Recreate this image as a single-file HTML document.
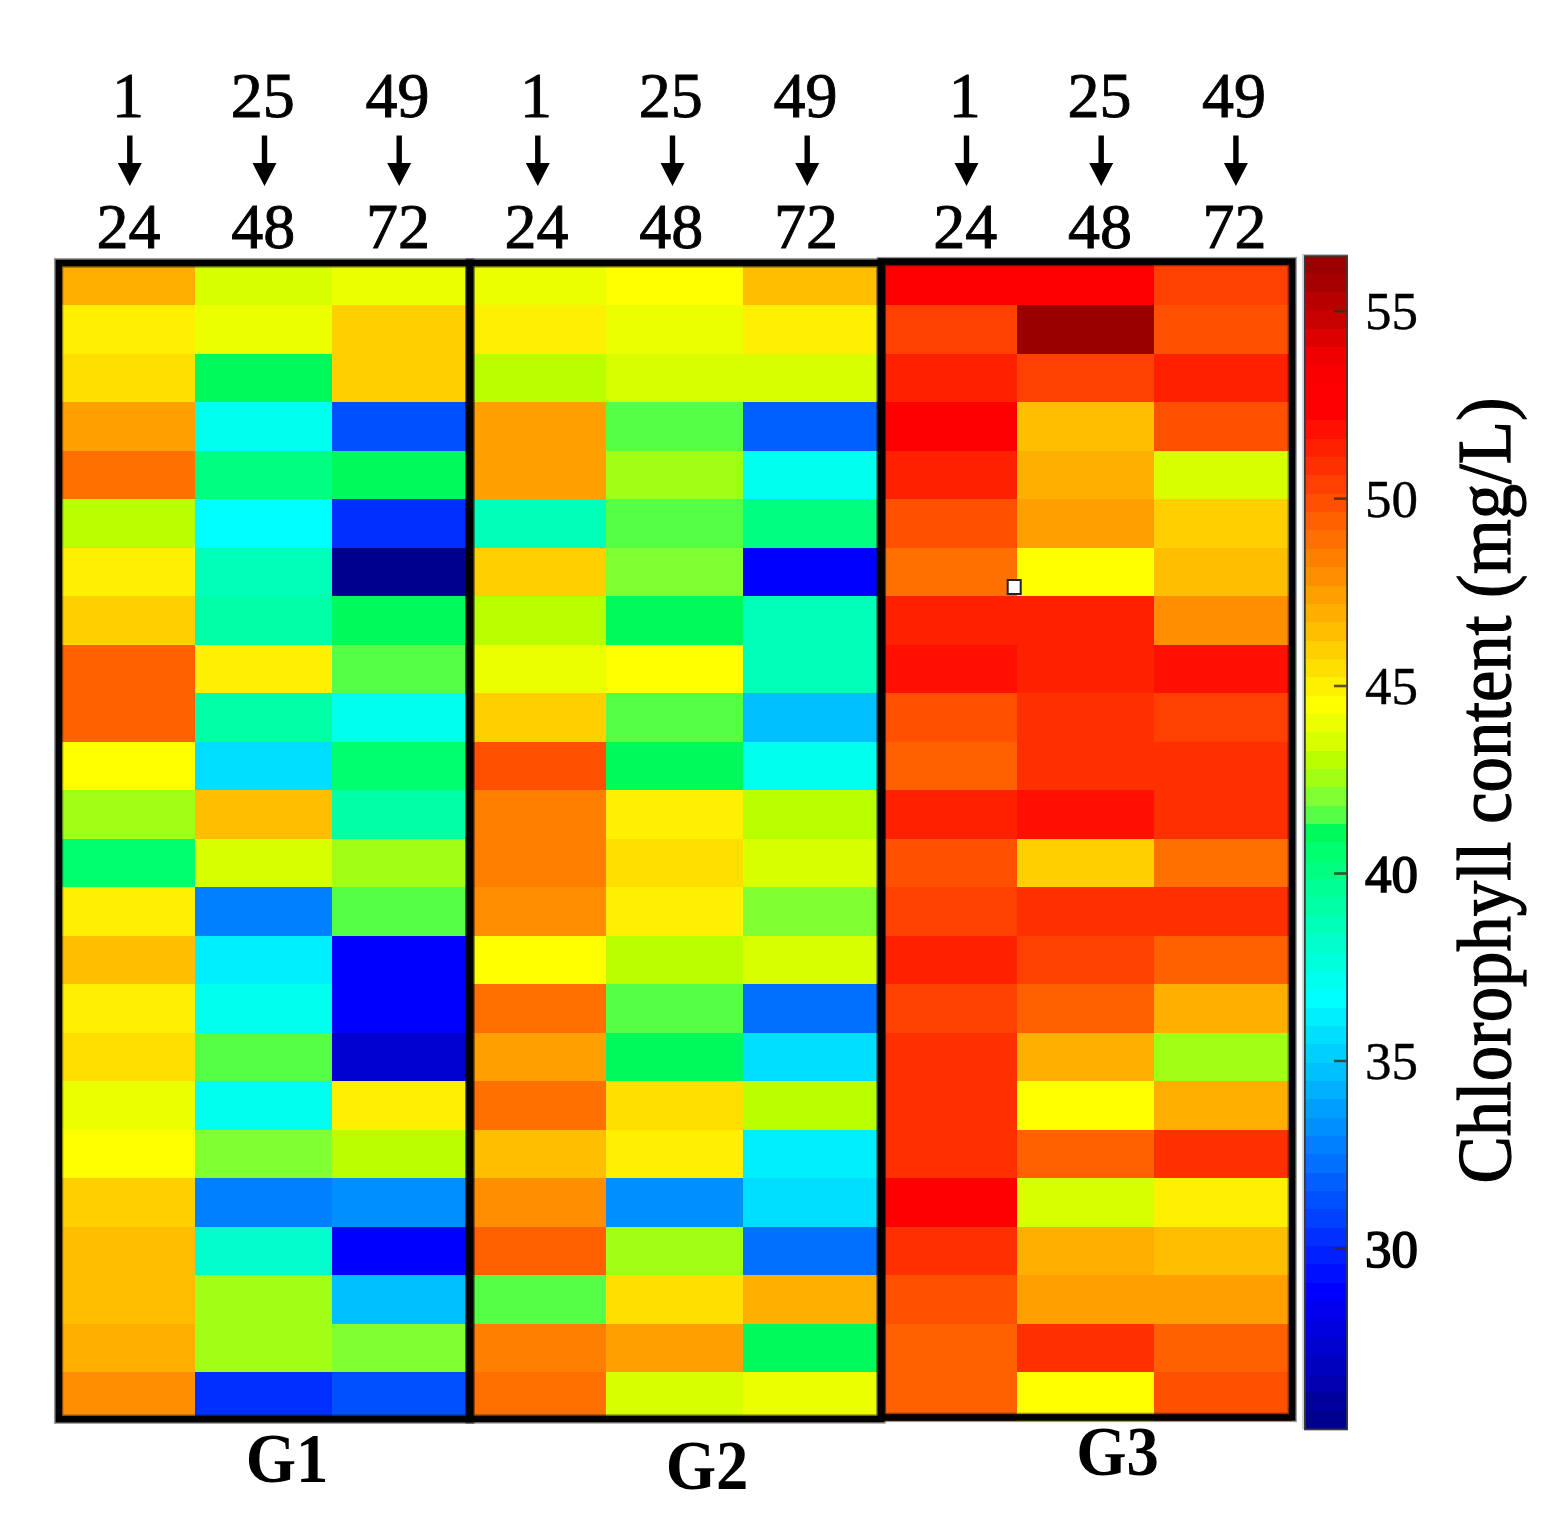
<!DOCTYPE html>
<html><head><meta charset="utf-8"><title>Chlorophyll content heatmap</title>
<style>html,body{margin:0;padding:0;background:#fff}body{width:1568px;height:1526px;overflow:hidden}svg{display:block}text{font-family:"Liberation Serif","DejaVu Serif",serif;fill:#000}</style>
</head><body>
<svg width="1568" height="1526" viewBox="0 0 1568 1526">
<rect x="0" y="0" width="1568" height="1526" fill="#fff"/>
<g shape-rendering="crispEdges">
<rect x="57.4" y="260.0" width="137.7" height="45.6" fill="#ffaf00"/>
<rect x="194.5" y="260.0" width="137.7" height="45.6" fill="#d7ff00"/>
<rect x="331.6" y="260.0" width="137.7" height="45.6" fill="#ebff00"/>
<rect x="468.7" y="260.0" width="137.7" height="45.6" fill="#ebff00"/>
<rect x="605.8" y="260.0" width="137.7" height="45.6" fill="#ffff00"/>
<rect x="742.9" y="260.0" width="137.7" height="45.6" fill="#ffbf00"/>
<rect x="880.0" y="260.0" width="137.7" height="45.6" fill="#ff0000"/>
<rect x="1017.1" y="260.0" width="137.7" height="45.6" fill="#ff0000"/>
<rect x="1154.2" y="260.0" width="137.7" height="45.6" fill="#ff4000"/>
<rect x="57.4" y="305.0" width="137.7" height="49.1" fill="#ffef00"/>
<rect x="194.5" y="305.0" width="137.7" height="49.1" fill="#ebff00"/>
<rect x="331.6" y="305.0" width="137.7" height="49.1" fill="#ffcf00"/>
<rect x="468.7" y="305.0" width="137.7" height="49.1" fill="#ffef00"/>
<rect x="605.8" y="305.0" width="137.7" height="49.1" fill="#ebff00"/>
<rect x="742.9" y="305.0" width="137.7" height="49.1" fill="#ffef00"/>
<rect x="880.0" y="305.0" width="137.7" height="49.1" fill="#ff4000"/>
<rect x="1017.1" y="305.0" width="137.7" height="49.1" fill="#9a0000"/>
<rect x="1154.2" y="305.0" width="137.7" height="49.1" fill="#ff5000"/>
<rect x="57.4" y="353.5" width="137.7" height="49.1" fill="#ffdf00"/>
<rect x="194.5" y="353.5" width="137.7" height="49.1" fill="#00fa5a"/>
<rect x="331.6" y="353.5" width="137.7" height="49.1" fill="#ffcf00"/>
<rect x="468.7" y="353.5" width="137.7" height="49.1" fill="#b9ff00"/>
<rect x="605.8" y="353.5" width="137.7" height="49.1" fill="#d7ff00"/>
<rect x="742.9" y="353.5" width="137.7" height="49.1" fill="#d7ff00"/>
<rect x="880.0" y="353.5" width="137.7" height="49.1" fill="#ff2000"/>
<rect x="1017.1" y="353.5" width="137.7" height="49.1" fill="#ff4000"/>
<rect x="1154.2" y="353.5" width="137.7" height="49.1" fill="#ff2000"/>
<rect x="57.4" y="402.0" width="137.7" height="49.1" fill="#ff9f00"/>
<rect x="194.5" y="402.0" width="137.7" height="49.1" fill="#00ffee"/>
<rect x="331.6" y="402.0" width="137.7" height="49.1" fill="#0050ff"/>
<rect x="468.7" y="402.0" width="137.7" height="49.1" fill="#ff9f00"/>
<rect x="605.8" y="402.0" width="137.7" height="49.1" fill="#55ff46"/>
<rect x="742.9" y="402.0" width="137.7" height="49.1" fill="#0060ff"/>
<rect x="880.0" y="402.0" width="137.7" height="49.1" fill="#ff0000"/>
<rect x="1017.1" y="402.0" width="137.7" height="49.1" fill="#ffbf00"/>
<rect x="1154.2" y="402.0" width="137.7" height="49.1" fill="#ff5000"/>
<rect x="57.4" y="450.5" width="137.7" height="49.1" fill="#ff7000"/>
<rect x="194.5" y="450.5" width="137.7" height="49.1" fill="#00ff80"/>
<rect x="331.6" y="450.5" width="137.7" height="49.1" fill="#00fa5a"/>
<rect x="468.7" y="450.5" width="137.7" height="49.1" fill="#ff9f00"/>
<rect x="605.8" y="450.5" width="137.7" height="49.1" fill="#a0ff14"/>
<rect x="742.9" y="450.5" width="137.7" height="49.1" fill="#00ffee"/>
<rect x="880.0" y="450.5" width="137.7" height="49.1" fill="#ff2000"/>
<rect x="1017.1" y="450.5" width="137.7" height="49.1" fill="#ffaf00"/>
<rect x="1154.2" y="450.5" width="137.7" height="49.1" fill="#d7ff00"/>
<rect x="57.4" y="499.0" width="137.7" height="49.1" fill="#b9ff00"/>
<rect x="194.5" y="499.0" width="137.7" height="49.1" fill="#00ffff"/>
<rect x="331.6" y="499.0" width="137.7" height="49.1" fill="#0030ff"/>
<rect x="468.7" y="499.0" width="137.7" height="49.1" fill="#00ffb8"/>
<rect x="605.8" y="499.0" width="137.7" height="49.1" fill="#55ff46"/>
<rect x="742.9" y="499.0" width="137.7" height="49.1" fill="#00ff80"/>
<rect x="880.0" y="499.0" width="137.7" height="49.1" fill="#ff5000"/>
<rect x="1017.1" y="499.0" width="137.7" height="49.1" fill="#ff9f00"/>
<rect x="1154.2" y="499.0" width="137.7" height="49.1" fill="#ffcf00"/>
<rect x="57.4" y="547.5" width="137.7" height="49.1" fill="#ffef00"/>
<rect x="194.5" y="547.5" width="137.7" height="49.1" fill="#00ffb8"/>
<rect x="331.6" y="547.5" width="137.7" height="49.1" fill="#00008f"/>
<rect x="468.7" y="547.5" width="137.7" height="49.1" fill="#ffcf00"/>
<rect x="605.8" y="547.5" width="137.7" height="49.1" fill="#80ff32"/>
<rect x="742.9" y="547.5" width="137.7" height="49.1" fill="#0000ff"/>
<rect x="880.0" y="547.5" width="137.7" height="49.1" fill="#ff7000"/>
<rect x="1017.1" y="547.5" width="137.7" height="49.1" fill="#ffff00"/>
<rect x="1154.2" y="547.5" width="137.7" height="49.1" fill="#ffbf00"/>
<rect x="57.4" y="596.0" width="137.7" height="49.1" fill="#ffcf00"/>
<rect x="194.5" y="596.0" width="137.7" height="49.1" fill="#00ffa6"/>
<rect x="331.6" y="596.0" width="137.7" height="49.1" fill="#00fa5a"/>
<rect x="468.7" y="596.0" width="137.7" height="49.1" fill="#b9ff00"/>
<rect x="605.8" y="596.0" width="137.7" height="49.1" fill="#00fa5a"/>
<rect x="742.9" y="596.0" width="137.7" height="49.1" fill="#00ffb8"/>
<rect x="880.0" y="596.0" width="137.7" height="49.1" fill="#ff2000"/>
<rect x="1017.1" y="596.0" width="137.7" height="49.1" fill="#ff2000"/>
<rect x="1154.2" y="596.0" width="137.7" height="49.1" fill="#ff8f00"/>
<rect x="57.4" y="644.5" width="137.7" height="49.1" fill="#ff6000"/>
<rect x="194.5" y="644.5" width="137.7" height="49.1" fill="#ffef00"/>
<rect x="331.6" y="644.5" width="137.7" height="49.1" fill="#55ff46"/>
<rect x="468.7" y="644.5" width="137.7" height="49.1" fill="#ebff00"/>
<rect x="605.8" y="644.5" width="137.7" height="49.1" fill="#ffff00"/>
<rect x="742.9" y="644.5" width="137.7" height="49.1" fill="#00ffb8"/>
<rect x="880.0" y="644.5" width="137.7" height="49.1" fill="#ff1000"/>
<rect x="1017.1" y="644.5" width="137.7" height="49.1" fill="#ff2000"/>
<rect x="1154.2" y="644.5" width="137.7" height="49.1" fill="#ff1000"/>
<rect x="57.4" y="693.0" width="137.7" height="49.1" fill="#ff6000"/>
<rect x="194.5" y="693.0" width="137.7" height="49.1" fill="#00ffa6"/>
<rect x="331.6" y="693.0" width="137.7" height="49.1" fill="#00ffee"/>
<rect x="468.7" y="693.0" width="137.7" height="49.1" fill="#ffcf00"/>
<rect x="605.8" y="693.0" width="137.7" height="49.1" fill="#55ff46"/>
<rect x="742.9" y="693.0" width="137.7" height="49.1" fill="#00bfff"/>
<rect x="880.0" y="693.0" width="137.7" height="49.1" fill="#ff5000"/>
<rect x="1017.1" y="693.0" width="137.7" height="49.1" fill="#ff3000"/>
<rect x="1154.2" y="693.0" width="137.7" height="49.1" fill="#ff4000"/>
<rect x="57.4" y="741.5" width="137.7" height="49.1" fill="#ffff00"/>
<rect x="194.5" y="741.5" width="137.7" height="49.1" fill="#00dfff"/>
<rect x="331.6" y="741.5" width="137.7" height="49.1" fill="#00ff6e"/>
<rect x="468.7" y="741.5" width="137.7" height="49.1" fill="#ff5000"/>
<rect x="605.8" y="741.5" width="137.7" height="49.1" fill="#00fa5a"/>
<rect x="742.9" y="741.5" width="137.7" height="49.1" fill="#00ffee"/>
<rect x="880.0" y="741.5" width="137.7" height="49.1" fill="#ff6000"/>
<rect x="1017.1" y="741.5" width="137.7" height="49.1" fill="#ff3000"/>
<rect x="1154.2" y="741.5" width="137.7" height="49.1" fill="#ff3000"/>
<rect x="57.4" y="790.0" width="137.7" height="49.1" fill="#a0ff14"/>
<rect x="194.5" y="790.0" width="137.7" height="49.1" fill="#ffbf00"/>
<rect x="331.6" y="790.0" width="137.7" height="49.1" fill="#00ffa6"/>
<rect x="468.7" y="790.0" width="137.7" height="49.1" fill="#ff8000"/>
<rect x="605.8" y="790.0" width="137.7" height="49.1" fill="#ffef00"/>
<rect x="742.9" y="790.0" width="137.7" height="49.1" fill="#b9ff00"/>
<rect x="880.0" y="790.0" width="137.7" height="49.1" fill="#ff2000"/>
<rect x="1017.1" y="790.0" width="137.7" height="49.1" fill="#ff1000"/>
<rect x="1154.2" y="790.0" width="137.7" height="49.1" fill="#ff3000"/>
<rect x="57.4" y="838.5" width="137.7" height="49.1" fill="#00ff6e"/>
<rect x="194.5" y="838.5" width="137.7" height="49.1" fill="#d7ff00"/>
<rect x="331.6" y="838.5" width="137.7" height="49.1" fill="#a0ff14"/>
<rect x="468.7" y="838.5" width="137.7" height="49.1" fill="#ff8000"/>
<rect x="605.8" y="838.5" width="137.7" height="49.1" fill="#ffdf00"/>
<rect x="742.9" y="838.5" width="137.7" height="49.1" fill="#d7ff00"/>
<rect x="880.0" y="838.5" width="137.7" height="49.1" fill="#ff5000"/>
<rect x="1017.1" y="838.5" width="137.7" height="49.1" fill="#ffcf00"/>
<rect x="1154.2" y="838.5" width="137.7" height="49.1" fill="#ff7000"/>
<rect x="57.4" y="887.0" width="137.7" height="49.1" fill="#ffef00"/>
<rect x="194.5" y="887.0" width="137.7" height="49.1" fill="#0080ff"/>
<rect x="331.6" y="887.0" width="137.7" height="49.1" fill="#55ff46"/>
<rect x="468.7" y="887.0" width="137.7" height="49.1" fill="#ff8f00"/>
<rect x="605.8" y="887.0" width="137.7" height="49.1" fill="#ffef00"/>
<rect x="742.9" y="887.0" width="137.7" height="49.1" fill="#80ff32"/>
<rect x="880.0" y="887.0" width="137.7" height="49.1" fill="#ff4000"/>
<rect x="1017.1" y="887.0" width="137.7" height="49.1" fill="#ff3000"/>
<rect x="1154.2" y="887.0" width="137.7" height="49.1" fill="#ff3000"/>
<rect x="57.4" y="935.5" width="137.7" height="49.1" fill="#ffbf00"/>
<rect x="194.5" y="935.5" width="137.7" height="49.1" fill="#00efff"/>
<rect x="331.6" y="935.5" width="137.7" height="49.1" fill="#0000ff"/>
<rect x="468.7" y="935.5" width="137.7" height="49.1" fill="#ffff00"/>
<rect x="605.8" y="935.5" width="137.7" height="49.1" fill="#b9ff00"/>
<rect x="742.9" y="935.5" width="137.7" height="49.1" fill="#d7ff00"/>
<rect x="880.0" y="935.5" width="137.7" height="49.1" fill="#ff2000"/>
<rect x="1017.1" y="935.5" width="137.7" height="49.1" fill="#ff4000"/>
<rect x="1154.2" y="935.5" width="137.7" height="49.1" fill="#ff6000"/>
<rect x="57.4" y="984.0" width="137.7" height="49.1" fill="#ffef00"/>
<rect x="194.5" y="984.0" width="137.7" height="49.1" fill="#00ffee"/>
<rect x="331.6" y="984.0" width="137.7" height="49.1" fill="#0000ff"/>
<rect x="468.7" y="984.0" width="137.7" height="49.1" fill="#ff7000"/>
<rect x="605.8" y="984.0" width="137.7" height="49.1" fill="#55ff46"/>
<rect x="742.9" y="984.0" width="137.7" height="49.1" fill="#0070ff"/>
<rect x="880.0" y="984.0" width="137.7" height="49.1" fill="#ff4000"/>
<rect x="1017.1" y="984.0" width="137.7" height="49.1" fill="#ff6000"/>
<rect x="1154.2" y="984.0" width="137.7" height="49.1" fill="#ffaf00"/>
<rect x="57.4" y="1032.5" width="137.7" height="49.1" fill="#ffdf00"/>
<rect x="194.5" y="1032.5" width="137.7" height="49.1" fill="#55ff46"/>
<rect x="331.6" y="1032.5" width="137.7" height="49.1" fill="#0000cf"/>
<rect x="468.7" y="1032.5" width="137.7" height="49.1" fill="#ff9f00"/>
<rect x="605.8" y="1032.5" width="137.7" height="49.1" fill="#00fa5a"/>
<rect x="742.9" y="1032.5" width="137.7" height="49.1" fill="#00dfff"/>
<rect x="880.0" y="1032.5" width="137.7" height="49.1" fill="#ff3000"/>
<rect x="1017.1" y="1032.5" width="137.7" height="49.1" fill="#ffaf00"/>
<rect x="1154.2" y="1032.5" width="137.7" height="49.1" fill="#a0ff14"/>
<rect x="57.4" y="1081.0" width="137.7" height="49.1" fill="#ebff00"/>
<rect x="194.5" y="1081.0" width="137.7" height="49.1" fill="#00ffee"/>
<rect x="331.6" y="1081.0" width="137.7" height="49.1" fill="#ffef00"/>
<rect x="468.7" y="1081.0" width="137.7" height="49.1" fill="#ff7000"/>
<rect x="605.8" y="1081.0" width="137.7" height="49.1" fill="#ffdf00"/>
<rect x="742.9" y="1081.0" width="137.7" height="49.1" fill="#b9ff00"/>
<rect x="880.0" y="1081.0" width="137.7" height="49.1" fill="#ff3000"/>
<rect x="1017.1" y="1081.0" width="137.7" height="49.1" fill="#ffff00"/>
<rect x="1154.2" y="1081.0" width="137.7" height="49.1" fill="#ffaf00"/>
<rect x="57.4" y="1129.5" width="137.7" height="49.1" fill="#ffff00"/>
<rect x="194.5" y="1129.5" width="137.7" height="49.1" fill="#80ff32"/>
<rect x="331.6" y="1129.5" width="137.7" height="49.1" fill="#b9ff00"/>
<rect x="468.7" y="1129.5" width="137.7" height="49.1" fill="#ffbf00"/>
<rect x="605.8" y="1129.5" width="137.7" height="49.1" fill="#ffef00"/>
<rect x="742.9" y="1129.5" width="137.7" height="49.1" fill="#00efff"/>
<rect x="880.0" y="1129.5" width="137.7" height="49.1" fill="#ff3000"/>
<rect x="1017.1" y="1129.5" width="137.7" height="49.1" fill="#ff6000"/>
<rect x="1154.2" y="1129.5" width="137.7" height="49.1" fill="#ff3000"/>
<rect x="57.4" y="1178.0" width="137.7" height="49.1" fill="#ffcf00"/>
<rect x="194.5" y="1178.0" width="137.7" height="49.1" fill="#0080ff"/>
<rect x="331.6" y="1178.0" width="137.7" height="49.1" fill="#008fff"/>
<rect x="468.7" y="1178.0" width="137.7" height="49.1" fill="#ff8f00"/>
<rect x="605.8" y="1178.0" width="137.7" height="49.1" fill="#008fff"/>
<rect x="742.9" y="1178.0" width="137.7" height="49.1" fill="#00dfff"/>
<rect x="880.0" y="1178.0" width="137.7" height="49.1" fill="#ff0000"/>
<rect x="1017.1" y="1178.0" width="137.7" height="49.1" fill="#d7ff00"/>
<rect x="1154.2" y="1178.0" width="137.7" height="49.1" fill="#ffef00"/>
<rect x="57.4" y="1226.5" width="137.7" height="49.1" fill="#ffbf00"/>
<rect x="194.5" y="1226.5" width="137.7" height="49.1" fill="#00ffca"/>
<rect x="331.6" y="1226.5" width="137.7" height="49.1" fill="#0000ff"/>
<rect x="468.7" y="1226.5" width="137.7" height="49.1" fill="#ff6000"/>
<rect x="605.8" y="1226.5" width="137.7" height="49.1" fill="#a0ff14"/>
<rect x="742.9" y="1226.5" width="137.7" height="49.1" fill="#0070ff"/>
<rect x="880.0" y="1226.5" width="137.7" height="49.1" fill="#ff3000"/>
<rect x="1017.1" y="1226.5" width="137.7" height="49.1" fill="#ffaf00"/>
<rect x="1154.2" y="1226.5" width="137.7" height="49.1" fill="#ffbf00"/>
<rect x="57.4" y="1275.0" width="137.7" height="49.1" fill="#ffbf00"/>
<rect x="194.5" y="1275.0" width="137.7" height="49.1" fill="#a0ff14"/>
<rect x="331.6" y="1275.0" width="137.7" height="49.1" fill="#00bfff"/>
<rect x="468.7" y="1275.0" width="137.7" height="49.1" fill="#55ff46"/>
<rect x="605.8" y="1275.0" width="137.7" height="49.1" fill="#ffdf00"/>
<rect x="742.9" y="1275.0" width="137.7" height="49.1" fill="#ffaf00"/>
<rect x="880.0" y="1275.0" width="137.7" height="49.1" fill="#ff5000"/>
<rect x="1017.1" y="1275.0" width="137.7" height="49.1" fill="#ff9f00"/>
<rect x="1154.2" y="1275.0" width="137.7" height="49.1" fill="#ff9f00"/>
<rect x="57.4" y="1323.5" width="137.7" height="49.1" fill="#ffaf00"/>
<rect x="194.5" y="1323.5" width="137.7" height="49.1" fill="#a0ff14"/>
<rect x="331.6" y="1323.5" width="137.7" height="49.1" fill="#80ff32"/>
<rect x="468.7" y="1323.5" width="137.7" height="49.1" fill="#ff8000"/>
<rect x="605.8" y="1323.5" width="137.7" height="49.1" fill="#ff9f00"/>
<rect x="742.9" y="1323.5" width="137.7" height="49.1" fill="#00fa5a"/>
<rect x="880.0" y="1323.5" width="137.7" height="49.1" fill="#ff6000"/>
<rect x="1017.1" y="1323.5" width="137.7" height="49.1" fill="#ff3000"/>
<rect x="1154.2" y="1323.5" width="137.7" height="49.1" fill="#ff6000"/>
<rect x="57.4" y="1372.0" width="137.7" height="49.1" fill="#ff8f00"/>
<rect x="194.5" y="1372.0" width="137.7" height="49.1" fill="#0030ff"/>
<rect x="331.6" y="1372.0" width="137.7" height="49.1" fill="#0050ff"/>
<rect x="468.7" y="1372.0" width="137.7" height="49.1" fill="#ff7000"/>
<rect x="605.8" y="1372.0" width="137.7" height="49.1" fill="#d7ff00"/>
<rect x="742.9" y="1372.0" width="137.7" height="49.1" fill="#ebff00"/>
<rect x="880.0" y="1372.0" width="137.7" height="49.1" fill="#ff6000"/>
<rect x="1017.1" y="1372.0" width="137.7" height="49.1" fill="#ffff00"/>
<rect x="1154.2" y="1372.0" width="137.7" height="49.1" fill="#ff5000"/>
</g>
<path d="M54,259 H1296" stroke="#e6e2dc" stroke-width="2" fill="none"/>
<g fill="none" stroke="#000" stroke-opacity="0.4" stroke-width="9.4">
<rect x="58.6" y="263" width="411.2" height="1156.2"/>
<rect x="470" y="263" width="411" height="1156"/>
<rect x="881.4" y="261.6" width="410.8" height="1155.8"/>
</g>
<g fill="none" stroke="#000" stroke-width="6.6">
<rect x="58.8" y="263" width="411" height="1156.2"/>
<rect x="470" y="263" width="411" height="1156"/>
<rect x="881.4" y="261.6" width="410.8" height="1155.8"/>
</g>
<rect x="1007.7" y="580" width="13" height="14" fill="#fff" stroke="#222" stroke-width="2"/>
<g shape-rendering="crispEdges">
<rect x="1304.5" y="255.20" width="43.0" height="18.85" fill="#9a0000"/>
<rect x="1304.5" y="273.55" width="43.0" height="18.85" fill="#a60000"/>
<rect x="1304.5" y="291.90" width="43.0" height="18.85" fill="#b80000"/>
<rect x="1304.5" y="310.25" width="43.0" height="18.85" fill="#c80000"/>
<rect x="1304.5" y="328.60" width="43.0" height="18.85" fill="#dc0000"/>
<rect x="1304.5" y="346.95" width="43.0" height="18.85" fill="#f00000"/>
<rect x="1304.5" y="365.30" width="43.0" height="18.85" fill="#fa0000"/>
<rect x="1304.5" y="383.65" width="43.0" height="18.85" fill="#ff0000"/>
<rect x="1304.5" y="402.00" width="43.0" height="18.85" fill="#ff0000"/>
<rect x="1304.5" y="420.35" width="43.0" height="18.85" fill="#ff1000"/>
<rect x="1304.5" y="438.70" width="43.0" height="18.85" fill="#ff2000"/>
<rect x="1304.5" y="457.05" width="43.0" height="18.85" fill="#ff3000"/>
<rect x="1304.5" y="475.40" width="43.0" height="18.85" fill="#ff4000"/>
<rect x="1304.5" y="493.75" width="43.0" height="18.85" fill="#ff5000"/>
<rect x="1304.5" y="512.10" width="43.0" height="18.85" fill="#ff6000"/>
<rect x="1304.5" y="530.45" width="43.0" height="18.85" fill="#ff7000"/>
<rect x="1304.5" y="548.80" width="43.0" height="18.85" fill="#ff8000"/>
<rect x="1304.5" y="567.15" width="43.0" height="18.85" fill="#ff8f00"/>
<rect x="1304.5" y="585.50" width="43.0" height="18.85" fill="#ff9f00"/>
<rect x="1304.5" y="603.85" width="43.0" height="18.85" fill="#ffaf00"/>
<rect x="1304.5" y="622.20" width="43.0" height="18.85" fill="#ffbf00"/>
<rect x="1304.5" y="640.55" width="43.0" height="18.85" fill="#ffcf00"/>
<rect x="1304.5" y="658.90" width="43.0" height="18.85" fill="#ffdf00"/>
<rect x="1304.5" y="677.25" width="43.0" height="18.85" fill="#ffef00"/>
<rect x="1304.5" y="695.60" width="43.0" height="18.85" fill="#ffff00"/>
<rect x="1304.5" y="713.95" width="43.0" height="18.85" fill="#ebff00"/>
<rect x="1304.5" y="732.30" width="43.0" height="18.85" fill="#d7ff00"/>
<rect x="1304.5" y="750.65" width="43.0" height="18.85" fill="#b9ff00"/>
<rect x="1304.5" y="769.00" width="43.0" height="18.85" fill="#a0ff14"/>
<rect x="1304.5" y="787.35" width="43.0" height="18.85" fill="#80ff32"/>
<rect x="1304.5" y="805.70" width="43.0" height="18.85" fill="#55ff46"/>
<rect x="1304.5" y="824.05" width="43.0" height="18.85" fill="#00fa5a"/>
<rect x="1304.5" y="842.40" width="43.0" height="18.85" fill="#00ff6e"/>
<rect x="1304.5" y="860.75" width="43.0" height="18.85" fill="#00ff80"/>
<rect x="1304.5" y="879.10" width="43.0" height="18.85" fill="#00ff94"/>
<rect x="1304.5" y="897.45" width="43.0" height="18.85" fill="#00ffa6"/>
<rect x="1304.5" y="915.80" width="43.0" height="18.85" fill="#00ffb8"/>
<rect x="1304.5" y="934.15" width="43.0" height="18.85" fill="#00ffca"/>
<rect x="1304.5" y="952.50" width="43.0" height="18.85" fill="#00ffdc"/>
<rect x="1304.5" y="970.85" width="43.0" height="18.85" fill="#00ffee"/>
<rect x="1304.5" y="989.20" width="43.0" height="18.85" fill="#00ffff"/>
<rect x="1304.5" y="1007.55" width="43.0" height="18.85" fill="#00efff"/>
<rect x="1304.5" y="1025.90" width="43.0" height="18.85" fill="#00dfff"/>
<rect x="1304.5" y="1044.25" width="43.0" height="18.85" fill="#00cfff"/>
<rect x="1304.5" y="1062.60" width="43.0" height="18.85" fill="#00bfff"/>
<rect x="1304.5" y="1080.95" width="43.0" height="18.85" fill="#00afff"/>
<rect x="1304.5" y="1099.30" width="43.0" height="18.85" fill="#009fff"/>
<rect x="1304.5" y="1117.65" width="43.0" height="18.85" fill="#008fff"/>
<rect x="1304.5" y="1136.00" width="43.0" height="18.85" fill="#0080ff"/>
<rect x="1304.5" y="1154.35" width="43.0" height="18.85" fill="#0070ff"/>
<rect x="1304.5" y="1172.70" width="43.0" height="18.85" fill="#0060ff"/>
<rect x="1304.5" y="1191.05" width="43.0" height="18.85" fill="#0050ff"/>
<rect x="1304.5" y="1209.40" width="43.0" height="18.85" fill="#0040ff"/>
<rect x="1304.5" y="1227.75" width="43.0" height="18.85" fill="#0030ff"/>
<rect x="1304.5" y="1246.10" width="43.0" height="18.85" fill="#0020ff"/>
<rect x="1304.5" y="1264.45" width="43.0" height="18.85" fill="#0010ff"/>
<rect x="1304.5" y="1282.80" width="43.0" height="18.85" fill="#0000ff"/>
<rect x="1304.5" y="1301.15" width="43.0" height="18.85" fill="#0000ef"/>
<rect x="1304.5" y="1319.50" width="43.0" height="18.85" fill="#0000df"/>
<rect x="1304.5" y="1337.85" width="43.0" height="18.85" fill="#0000cf"/>
<rect x="1304.5" y="1356.20" width="43.0" height="18.85" fill="#0000bf"/>
<rect x="1304.5" y="1374.55" width="43.0" height="18.85" fill="#0000af"/>
<rect x="1304.5" y="1392.90" width="43.0" height="18.85" fill="#00009f"/>
<rect x="1304.5" y="1411.25" width="43.0" height="18.85" fill="#00008f"/>
</g>
<rect x="1304.9" y="255.8" width="42.2" height="1173.6" fill="none" stroke="#3a3a3a" stroke-width="1.8"/>
<path d="M1303,1429.6 V254.6 H1347.5" fill="none" stroke="#b8c4c8" stroke-width="1.4"/>
<line x1="1334" y1="311.3" x2="1346.5" y2="311.3" stroke="#3a2a1a" stroke-opacity="0.8" stroke-width="2.6"/>
<text x="1365" y="329.3" font-size="53" stroke="#000" stroke-width="0.4">55</text>
<line x1="1334" y1="498.6" x2="1346.5" y2="498.6" stroke="#3a2a1a" stroke-opacity="0.8" stroke-width="2.6"/>
<text x="1365" y="516.6" font-size="53" stroke="#000" stroke-width="0.4">50</text>
<line x1="1334" y1="686.0" x2="1346.5" y2="686.0" stroke="#3a2a1a" stroke-opacity="0.8" stroke-width="2.6"/>
<text x="1365" y="704.0" font-size="53" stroke="#000" stroke-width="0.4">45</text>
<line x1="1334" y1="873.5" x2="1346.5" y2="873.5" stroke="#3a2a1a" stroke-opacity="0.8" stroke-width="2.6"/>
<text x="1365" y="891.5" font-size="53" stroke="#000" stroke-width="1.6">40</text>
<line x1="1334" y1="1061.0" x2="1346.5" y2="1061.0" stroke="#3a2a1a" stroke-opacity="0.8" stroke-width="2.6"/>
<text x="1365" y="1079.0" font-size="53" stroke="#000" stroke-width="0.4">35</text>
<line x1="1334" y1="1248.5" x2="1346.5" y2="1248.5" stroke="#3a2a1a" stroke-opacity="0.8" stroke-width="2.6"/>
<text x="1365" y="1266.5" font-size="53" stroke="#000" stroke-width="1.6">30</text>
<text x="128.0" y="116.8" font-size="64" text-anchor="middle" stroke="#000" stroke-width="0.9">1</text>
<text x="128.5" y="247.8" font-size="64" text-anchor="middle" stroke="#000" stroke-width="0.9">24</text>
<path d="M127.1,135.5 H132.5 V163 H141.8 L129.8,186 L117.8,163 H127.1 Z" fill="#000"/>
<text x="262.7" y="116.8" font-size="64" text-anchor="middle" stroke="#000" stroke-width="0.9">25</text>
<text x="263.2" y="247.8" font-size="64" text-anchor="middle" stroke="#000" stroke-width="0.9">48</text>
<path d="M261.8,135.5 H267.2 V163 H276.5 L264.5,186 L252.5,163 H261.8 Z" fill="#000"/>
<text x="397.4" y="116.8" font-size="64" text-anchor="middle" stroke="#000" stroke-width="0.9">49</text>
<text x="397.9" y="247.8" font-size="64" text-anchor="middle" stroke="#000" stroke-width="0.9">72</text>
<path d="M396.5,135.5 H401.9 V163 H411.2 L399.2,186 L387.2,163 H396.5 Z" fill="#000"/>
<text x="536.0" y="116.8" font-size="64" text-anchor="middle" stroke="#000" stroke-width="0.9">1</text>
<text x="536.5" y="247.8" font-size="64" text-anchor="middle" stroke="#000" stroke-width="0.9">24</text>
<path d="M535.1,135.5 H540.5 V163 H549.8 L537.8,186 L525.8,163 H535.1 Z" fill="#000"/>
<text x="670.7" y="116.8" font-size="64" text-anchor="middle" stroke="#000" stroke-width="0.9">25</text>
<text x="671.2" y="247.8" font-size="64" text-anchor="middle" stroke="#000" stroke-width="0.9">48</text>
<path d="M669.8,135.5 H675.2 V163 H684.5 L672.5,186 L660.5,163 H669.8 Z" fill="#000"/>
<text x="805.4" y="116.8" font-size="64" text-anchor="middle" stroke="#000" stroke-width="0.9">49</text>
<text x="805.9" y="247.8" font-size="64" text-anchor="middle" stroke="#000" stroke-width="0.9">72</text>
<path d="M804.5,135.5 H809.9 V163 H819.2 L807.2,186 L795.2,163 H804.5 Z" fill="#000"/>
<text x="964.7" y="116.8" font-size="64" text-anchor="middle" stroke="#000" stroke-width="0.9">1</text>
<text x="965.2" y="247.8" font-size="64" text-anchor="middle" stroke="#000" stroke-width="0.9">24</text>
<path d="M963.8,135.5 H969.2 V163 H978.5 L966.5,186 L954.5,163 H963.8 Z" fill="#000"/>
<text x="1099.4" y="116.8" font-size="64" text-anchor="middle" stroke="#000" stroke-width="0.9">25</text>
<text x="1099.9" y="247.8" font-size="64" text-anchor="middle" stroke="#000" stroke-width="0.9">48</text>
<path d="M1098.5,135.5 H1103.9 V163 H1113.2 L1101.2,186 L1089.2,163 H1098.5 Z" fill="#000"/>
<text x="1234.1" y="116.8" font-size="64" text-anchor="middle" stroke="#000" stroke-width="0.9">49</text>
<text x="1234.6" y="247.8" font-size="64" text-anchor="middle" stroke="#000" stroke-width="0.9">72</text>
<path d="M1233.2,135.5 H1238.6 V163 H1247.9 L1235.9,186 L1223.9,163 H1233.2 Z" fill="#000"/>
<text transform="translate(287.0,1482.0) scale(0.98,1.07)" x="0" y="0" font-size="66" font-weight="bold" text-anchor="middle">G1</text>
<text transform="translate(707.0,1488.5) scale(0.98,1.07)" x="0" y="0" font-size="66" font-weight="bold" text-anchor="middle">G2</text>
<text transform="translate(1117.5,1474.5) scale(0.98,1.07)" x="0" y="0" font-size="66" font-weight="bold" text-anchor="middle">G3</text>
<g transform="translate(1510,1183.5) rotate(-90) scale(1,1.13)"><text x="0" y="0" font-size="67" textLength="786" lengthAdjust="spacingAndGlyphs" stroke="#000" stroke-width="1.1">Chlorophyll content (mg/L)</text></g>
</svg>
</body></html>
